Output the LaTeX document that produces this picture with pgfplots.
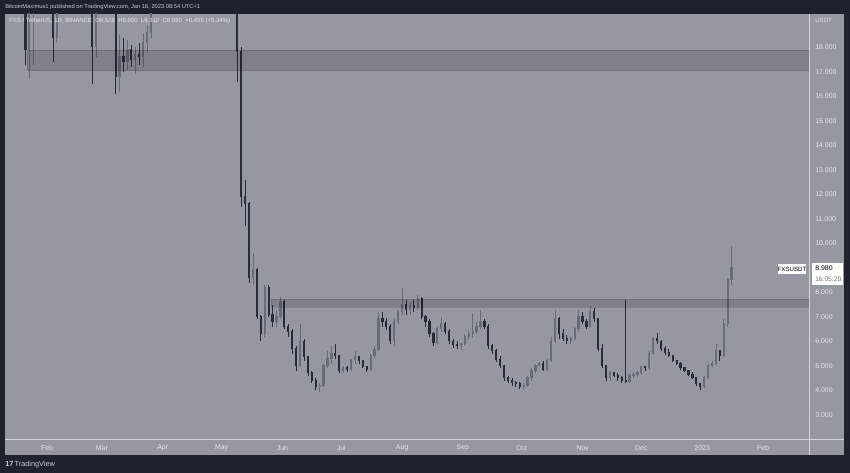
\documentclass[border=0pt]{standalone}
\usepackage{pgfplots}
\pgfplotsset{compat=1.18}
\usepackage{pgfplotstable}
\usepackage{fontspec}
\setmainfont{Liberation Sans}
\definecolor{tvbg}{RGB}{30,34,45}
\definecolor{chartbg}{RGB}{149,152,161}
\definecolor{upc}{RGB}{104,108,118}
\definecolor{dnc}{RGB}{40,44,56}
\definecolor{lbl}{RGB}{228,230,235}
\definecolor{sep}{RGB}{210,213,219}
\definecolor{hdr}{RGB}{200,203,210}

% d = days since 1 Jan 2022, two-day candles
\pgfplotstableread{
d o h l c
20 21.5 23.0 17.3 17.9
22 17.9 21.0 16.7 20.6
24 20.6 22.0 17.3 21.4
26 21.4 23.5 20.0 22.8
28 22.8 24.0 21.0 21.5
30 21.5 22.5 19.8 20.5
32 20.5 21.8 19.6 21.0
34 21.0 21.5 17.4 18.4
36 18.4 21.0 18.2 20.6
38 20.6 22.5 20.2 22.0
40 22.0 23.5 21.0 22.6
42 22.6 24.5 22.0 23.8
44 23.8 24.2 21.5 22.0
46 22.0 22.8 20.5 21.0
48 21.0 22.0 19.8 21.5
50 21.5 22.0 19.7 20.2
52 20.2 21.0 19.5 20.0
54 20.0 20.5 16.5 18.0
56 18.0 20.8 17.6 20.4
58 20.4 22.0 20.0 21.6
60 21.6 23.0 20.8 22.5
62 22.5 23.0 20.6 21.0
64 21.0 21.8 19.6 20.2
66 20.2 20.5 16.1 16.8
68 16.8 18.5 16.2 17.6
70 17.6 18.4 17.0 17.4
72 17.4 18.3 17.1 17.9
74 17.9 18.1 17.2 17.5
76 17.5 18.0 16.9 17.7
78 17.7 18.2 17.3 17.6
80 17.6 18.6 17.2 18.2
82 18.2 18.9 17.8 18.6
84 18.6 20.6 18.4 20.3
86 20.3 22.5 20.0 22.1
88 22.1 24.0 21.5 23.5
90 23.5 25.5 23.0 25.0
92 25.0 27.0 24.0 26.2
94 26.2 30.0 25.5 29.0
96 29.0 33.0 28.0 31.5
98 31.5 34.0 29.0 30.0
100 30.0 31.0 27.5 28.2
102 28.2 30.5 27.0 29.5
104 29.5 32.0 28.5 31.0
106 31.0 33.0 29.5 30.2
108 30.2 31.0 27.0 27.8
110 27.8 29.0 26.5 28.4
112 28.4 29.5 26.0 26.8
114 26.8 28.0 24.5 25.2
116 25.2 26.5 23.5 24.0
118 24.0 25.5 22.5 25.0
120 25.0 26.0 23.0 23.6
122 23.6 24.5 21.5 22.0
124 22.0 23.5 20.8 22.8
126 22.8 23.2 20.2 21.0
128 21.0 21.5 16.6 17.8
130 17.8 18.0 11.5 11.9
132 11.9 12.6 10.7 11.6
134 11.6 11.7 8.4 8.6
136 8.6 9.6 8.3 8.9
138 8.9 9.0 6.9 7.0
140 7.0 7.1 6.0 6.3
142 6.3 8.3 6.2 8.2
144 8.2 8.3 7.0 7.1
146 7.1 7.5 6.6 6.8
148 6.8 7.3 6.6 7.0
150 7.0 7.8 6.9 7.6
152 7.6 7.7 6.5 6.6
154 6.6 6.7 6.2 6.4
156 6.4 6.5 5.5 5.7
158 5.7 5.8 4.8 5.0
160 5.0 6.7 4.95 6.0
162 6.0 6.1 5.2 5.35
164 5.35 5.4 4.6 4.7
166 4.7 4.8 4.3 4.4
168 4.4 4.5 4.0 4.15
170 4.15 4.3 3.95 4.2
172 4.2 5.1 4.15 5.0
174 5.0 5.6 4.9 5.3
176 5.3 5.8 5.1 5.5
178 5.5 5.9 5.3 5.4
180 5.4 5.45 4.7 4.8
182 4.8 5.0 4.7 4.9
184 4.9 5.0 4.75 4.85
186 4.85 5.3 4.8 5.25
188 5.25 5.6 5.1 5.35
190 5.35 5.4 5.1 5.2
192 5.2 5.25 4.9 4.95
194 4.95 5.0 4.75 4.85
196 4.85 5.5 4.8 5.4
198 5.4 5.8 5.3 5.65
200 5.65 7.2 5.6 6.9
202 6.9 7.2 6.6 6.8
204 6.8 6.95 6.45 6.6
206 6.6 6.7 5.9 6.0
208 6.0 6.9 5.8 6.8
210 6.8 7.3 6.7 7.2
212 7.2 8.2 7.1 7.5
214 7.5 7.7 7.1 7.3
216 7.3 7.6 7.1 7.45
218 7.45 7.7 7.2 7.35
220 7.35 7.9 7.3 7.75
222 7.75 7.8 6.9 7.0
224 7.0 7.1 6.6 6.8
226 6.8 6.9 6.2 6.3
228 6.3 6.4 5.8 5.95
230 5.95 6.6 5.85 6.5
232 6.5 7.0 6.4 6.7
234 6.7 6.8 6.3 6.4
236 6.4 6.5 5.9 6.0
238 6.0 6.1 5.75 5.85
240 5.85 6.0 5.7 5.8
242 5.8 5.95 5.65 5.9
244 5.9 6.3 5.85 6.2
246 6.2 6.45 6.05 6.3
248 6.3 7.15 6.15 6.4
250 6.4 6.8 6.3 6.6
252 6.6 7.3 6.5 6.8
254 6.8 6.9 6.5 6.6
256 6.6 6.7 5.7 5.8
258 5.8 5.9 5.5 5.6
260 5.6 5.7 5.15 5.25
262 5.25 5.4 4.9 5.0
264 5.0 5.05 4.4 4.5
266 4.5 4.6 4.3 4.4
268 4.4 4.5 4.2 4.3
270 4.3 4.4 4.15 4.25
272 4.25 4.35 4.05 4.15
274 4.15 4.3 4.0 4.2
276 4.2 4.6 4.15 4.5
278 4.5 4.9 4.4 4.8
280 4.8 5.1 4.7 5.0
282 5.0 5.15 4.95 5.1
284 5.1 5.2 4.8 4.85
286 4.85 5.3 4.8 5.2
288 5.2 6.2 5.15 6.0
290 6.0 7.3 5.95 6.9
292 6.9 7.0 6.1 6.3
294 6.3 6.5 6.0 6.1
296 6.1 6.25 5.9 6.0
298 6.0 6.2 5.9 6.1
300 6.1 6.6 6.05 6.5
302 6.5 7.3 6.4 7.0
304 7.0 7.2 6.7 6.8
306 6.8 6.9 6.5 6.6
308 6.6 7.45 6.55 7.2
310 7.2 7.35 6.8 6.9
312 6.9 6.95 5.6 5.7
314 5.7 5.9 4.9 5.0
316 5.0 5.05 4.4 4.5
318 4.5 4.8 4.4 4.7
320 4.7 4.75 4.55 4.6
322 4.6 4.7 4.4 4.5
324 4.5 4.6 4.3 4.4
326 4.4 7.69 4.3 4.35
328 4.35 4.7 4.3 4.6
330 4.6 4.75 4.5 4.65
332 4.65 4.8 4.55 4.7
334 4.7 5.0 4.65 4.95
336 4.95 5.0 4.8 4.9
338 4.9 5.6 4.85 5.5
340 5.5 6.2 5.45 6.1
342 6.1 6.33 5.9 6.0
344 6.0 6.05 5.6 5.7
346 5.7 5.8 5.45 5.55
348 5.55 5.7 5.35 5.4
350 5.4 5.45 5.15 5.2
352 5.2 5.25 5.05 5.1
354 5.1 5.15 4.85 4.9
356 4.9 4.95 4.75 4.8
358 4.8 4.85 4.6 4.65
360 4.65 4.75 4.45 4.5
362 4.5 4.55 4.2 4.25
364 4.25 4.3 4.0 4.15
366 4.15 4.6 4.1 4.5
368 4.5 5.1 4.45 5.0
370 5.0 5.2 4.95 5.1
372 5.1 5.9 5.05 5.6
374 5.6 5.65 5.2 5.4
376 5.4 6.9 5.35 6.7
378 6.7 8.6 6.6 8.528
380 8.528 9.900 8.312 8.980
}\candles

\begin{document}
\begin{tikzpicture}
\useasboundingbox (0,0) rectangle (637.5pt,354.75pt);
\begin{scope}[x=0.75pt,y=-0.75pt,shift={(0pt,354.75pt)}]
  \fill[tvbg] (0,0) rectangle (850,473);
  \fill[chartbg] (5,14) rectangle (844,455);
\end{scope}

\begin{axis}[
  at={(3.75pt,25.5pt)}, anchor=south west,
  scale only axis, width=603pt, height=318.75pt,
  xmin=9.59, xmax=419.46, ymin=2.02, ymax=19.367,
  axis line style={draw=none},
  major tick length=0pt,
  tick style={draw=none},
  xtick={31,59,90,120,151,181,212,243,273,304,334,365,396},
  xticklabels={Feb,Mar,Apr,May,Jun,Jul,Aug,Sep,Oct,Nov,Dec,2023,Feb},
  ytick={3,4,5,6,7,8,10,11,12,13,14,15,16,17,18},
  yticklabel pos=right,
  /pgf/number format/assume math mode=true,
  yticklabel={\pgfmathprintnumber[fixed,fixed zerofill,precision=3]{\tick}},
  tick label style={font=\fontsize{5.2}{6}\selectfont, text=lbl},
  xticklabel style={anchor=center, yshift=-6.5pt},
  yticklabel style={anchor=west, inner sep=0pt, xshift=4.5pt},
  clip=true,
  unbounded coords=discard, filter discard warning=false,
  candle/.style={mark=none, draw=none, forget plot,
    error bars/y dir=plus, error bars/y explicit, error bars/error mark=none},
]
% wicks
\addplot[candle, error bars/error bar style={draw=dnc, line width=0.55pt}]
  table[x=d, y expr={\thisrow{c}<\thisrow{o} ? \thisrow{l} : nan}, y error plus expr={\thisrow{h}-\thisrow{l}}] {\candles};
\addplot[candle, error bars/error bar style={draw=upc, line width=0.55pt}]
  table[x=d, y expr={\thisrow{c}<\thisrow{o} ? nan : \thisrow{l}}, y error plus expr={\thisrow{h}-\thisrow{l}}] {\candles};
% bodies
\addplot[candle, error bars/error bar style={draw=dnc, line width=1.7pt}]
  table[x=d, y expr={\thisrow{c}<\thisrow{o} ? \thisrow{c} : nan}, y error plus expr={\thisrow{o}-\thisrow{c}+0.04}] {\candles};
\addplot[candle, error bars/error bar style={draw=upc, line width=1.7pt}]
  table[x=d, y expr={\thisrow{c}<\thisrow{o} ? nan : \thisrow{o}}, y error plus expr={\thisrow{c}-\thisrow{o}+0.04}] {\candles};
% zones
\addplot[fill=black, fill opacity=0.15, draw=black, draw opacity=0.12] coordinates {(20.8,17.05) (420,17.05) (420,17.9) (20.8,17.9)} --cycle;
\addplot[fill=black, fill opacity=0.15, draw=black, draw opacity=0.12] coordinates {(145.2,7.41) (420,7.41) (420,7.73) (145.2,7.73)} --cycle;
\end{axis}

\begin{scope}[x=0.75pt,y=-0.75pt,shift={(0pt,354.75pt)}]
  \draw[sep, line width=0.6pt] (809,14) -- (809,455);
  \draw[sep, line width=0.6pt] (5,439) -- (844,439);
  \node[anchor=west, inner sep=0pt, text=hdr, font=\fontsize{4.3}{5}\selectfont] at (5,7) {BitcoinMaximus1 published on TradingView.com, Jan 16, 2023 08:54 UTC+1};
  \node[anchor=west, inner sep=0pt, text=lbl, font=\fontsize{4.5}{5}\selectfont] at (9,21) {FXS / TetherUS, 1D, BINANCE\ \ O8.528\ \ H9.900\ \ L8.312\ \ C8.980\ \ +0.455 (+5.34\%)};
  \node[anchor=west, inner sep=0pt, text=lbl, font=\fontsize{4.6}{6}\selectfont] at (815,20) {USDT};
  \fill[white] (812,263) rectangle (843,285);
  \node[anchor=west, inner sep=0pt, text=black, font=\fontsize{5.2}{6}\selectfont] at (815,268.5) {8.980};
  \node[anchor=west, inner sep=0pt, text=black!55, font=\fontsize{5}{6}\selectfont] at (815,279) {16:05:20};
  \fill[white] (778,264.5) rectangle (806,274);
  \node[anchor=center, inner sep=0pt, text=black, font=\fontsize{4.6}{6}\selectfont] at (792,269.3) {FXSUSDT};
  \node[anchor=west, inner sep=0pt, text=hdr, font=\fontsize{5.5}{6}\selectfont] at (5,465) {\textbf{17}\,TradingView};
\end{scope}
\end{tikzpicture}
\end{document}
